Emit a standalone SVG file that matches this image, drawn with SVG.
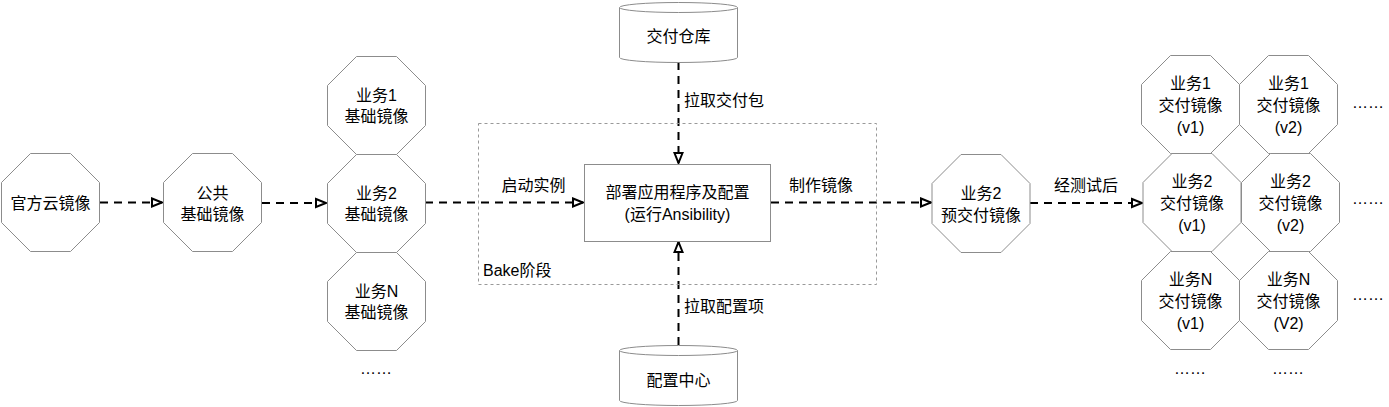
<svg xmlns="http://www.w3.org/2000/svg" xmlns:xlink="http://www.w3.org/1999/xlink" width="1389" height="407" viewBox="0 0 1389 407">
<style>
.oct{fill:#fff;stroke:#8c8c8c;stroke-width:1}
.box{fill:#fff;stroke:#8c8c8c;stroke-width:1}
.bake{fill:none;stroke:#999;stroke-width:1;stroke-dasharray:3 3}
.t{font-family:"Liberation Sans","Noto Sans CJK SC",sans-serif;font-size:16px;fill:#000;text-anchor:middle}
.l{font-family:"Liberation Sans","Noto Sans CJK SC",sans-serif;font-size:16px;fill:#000;text-anchor:start}
.c{fill:none;stroke:#000;stroke-width:2;stroke-dasharray:8 6}
</style>
<defs>
<path id="oct" d="M-20,-49 L20,-49 L49,-20 L49,20 L20,49 L-20,49 L-49,20 L-49,-20 Z"/>
<marker id="arr" markerUnits="userSpaceOnUse" markerWidth="14" markerHeight="14" viewBox="0 0 14 14" refX="12" refY="7" orient="auto">
<path d="M2,3 L12,7 L2,11 Z" fill="#fff" stroke="#000" stroke-width="2"/>
</marker>
</defs>

<g id="connectors">
<line class="c" x1="100" y1="202.5" x2="162" y2="202.5" marker-end="url(#arr)"/>
<line class="c" x1="262" y1="203" x2="326" y2="203" marker-end="url(#arr)"/>
<line class="c" x1="425" y1="202.5" x2="583" y2="202.5" marker-end="url(#arr)"/>
<line class="c" x1="771" y1="202.5" x2="931" y2="202.5" marker-end="url(#arr)"/>
<line class="c" x1="1030" y1="203" x2="1142" y2="203" marker-end="url(#arr)"/>
<line class="c" x1="678.5" y1="62" x2="678.5" y2="163" marker-end="url(#arr)"/>
<line class="c" x1="678.5" y1="345" x2="678.5" y2="242" marker-end="url(#arr)"/>
<text class="t" x="533.5" y="191">启动实例</text>
<text class="t" x="821" y="191">制作镜像</text>
<text class="t" x="1086" y="191">经测试后</text>
<text class="l" x="684" y="106">拉取交付包</text>
<text class="l" x="684" y="312">拉取配置项</text>
</g>

<g id="bake">
<rect class="bake" x="478.5" y="123.5" width="398" height="161"/>
<text class="l" x="483" y="276">Bake阶段</text>
</g>

<g id="n-official">
<use href="#oct" class="oct" x="50.5" y="202.5"/>
<text class="t" x="50.5" y="208.5">官方云镜像</text>
</g>
<g id="n-common">
<use href="#oct" class="oct" x="212.5" y="202.5"/>
<text class="t" x="212.5" y="198.5">公共</text>
<text class="t" x="212.5" y="219.5">基础镜像</text>
</g>
<g id="n-biz1-base">
<use href="#oct" class="oct" x="376.5" y="105.5"/>
<text class="t" x="376.5" y="101">业务1</text>
<text class="t" x="376.5" y="122">基础镜像</text>
</g>
<g id="n-biz2-base">
<use href="#oct" class="oct" x="376.5" y="203.5"/>
<text class="t" x="376.5" y="199">业务2</text>
<text class="t" x="376.5" y="220">基础镜像</text>
</g>
<g id="n-bizN-base">
<use href="#oct" class="oct" x="376.5" y="301.5"/>
<text class="t" x="376.5" y="297">业务N</text>
<text class="t" x="376.5" y="318">基础镜像</text>
</g>
<g id="n-base-more"><text class="t" x="376" y="374">……</text></g>

<g id="n-repo">
<path class="box" d="M619.5,7.5 a59,5 0 0 1 118,0 v50 a59,5 0 0 1 -118,0 z"/>
<path class="box" fill="none" d="M619.5,7.5 a59,5 0 0 0 118,0"/>
<text class="t" x="678.5" y="42">交付仓库</text>
</g>
<g id="n-config">
<path class="box" d="M619.5,350.5 a59,5 0 0 1 118,0 v50 a59,5 0 0 1 -118,0 z"/>
<path class="box" fill="none" d="M619.5,350.5 a59,5 0 0 0 118,0"/>
<text class="t" x="678.5" y="386">配置中心</text>
</g>
<g id="n-deploy">
<rect class="box" x="584.5" y="164.5" width="186" height="77"/>
<text class="t" x="677.5" y="198">部署应用程序及配置</text>
<text class="t" x="677.5" y="220">(运行Ansibility)</text>
</g>
<g id="n-pre">
<use href="#oct" class="oct" x="981" y="203.5"/>
<text class="t" x="981" y="199">业务2</text>
<text class="t" x="981" y="221">预交付镜像</text>
</g>

<g id="n-b1v1">
<use href="#oct" class="oct" x="1190.5" y="104.5"/>
<text class="t" x="1190.5" y="89">业务1</text><text class="t" x="1190.5" y="111">交付镜像</text><text class="t" x="1190.5" y="133">(v1)</text>
</g>
<g id="n-b1v2">
<use href="#oct" class="oct" x="1288.5" y="104.5"/>
<text class="t" x="1288.5" y="89">业务1</text><text class="t" x="1288.5" y="111">交付镜像</text><text class="t" x="1288.5" y="133">(v2)</text>
</g>
<g id="n-b2v1">
<use href="#oct" class="oct" x="1192" y="202.5"/>
<text class="t" x="1192" y="187">业务2</text><text class="t" x="1192" y="209">交付镜像</text><text class="t" x="1192" y="231">(v1)</text>
</g>
<g id="n-b2v2">
<use href="#oct" class="oct" x="1290.5" y="202.5"/>
<text class="t" x="1290.5" y="187">业务2</text><text class="t" x="1290.5" y="209">交付镜像</text><text class="t" x="1290.5" y="231">(v2)</text>
</g>
<g id="n-bNv1">
<use href="#oct" class="oct" x="1190.5" y="300.5"/>
<text class="t" x="1190.5" y="285">业务N</text><text class="t" x="1190.5" y="307">交付镜像</text><text class="t" x="1190.5" y="329">(v1)</text>
</g>
<g id="n-bNv2">
<use href="#oct" class="oct" x="1288.5" y="300.5"/>
<text class="t" x="1288.5" y="285">业务N</text><text class="t" x="1288.5" y="307">交付镜像</text><text class="t" x="1288.5" y="329">(V2)</text>
</g>
<g id="n-more">
<text class="l" x="1352" y="108">……</text>
<text class="l" x="1352" y="204">……</text>
<text class="l" x="1352" y="300">……</text>
<text class="t" x="1190" y="374">……</text>
<text class="t" x="1288" y="374">……</text>
</g>
</svg>
